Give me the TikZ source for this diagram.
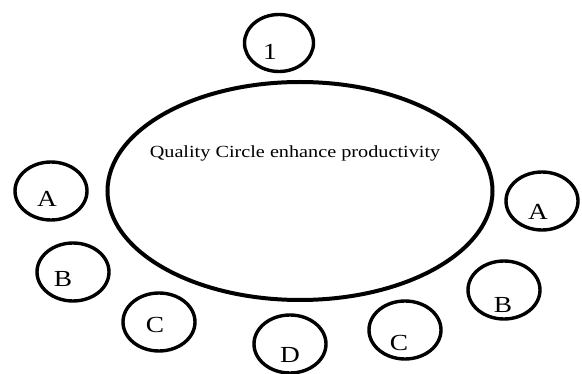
\documentclass[tikz,border=0pt]{standalone}
\usepackage{fontspec}
\setmainfont{Liberation Serif}[FakeStretch=1.19]
\usetikzlibrary{shapes.geometric}

\begin{document}
\begin{tikzpicture}[x=1pt, y=-1pt,
  ring/.style={ellipse, draw, line width=3.4pt, inner sep=0pt,
    minimum width=72pt, minimum height=58pt},
  letter/.style={inner sep=0pt, font=\fontsize{23}{23}\selectfont},
  theme/.style={inner sep=0pt, font=\fontsize{17}{17}\selectfont}
]
\useasboundingbox (0,0) rectangle (582,374);

% Main circle
\node[ellipse, draw, line width=4pt, inner sep=0pt,
  minimum width=385pt, minimum height=218pt] (qc) at (300,191) {};
\node[theme] (qct) at (295,153) {Quality Circle enhance productivity};

% Top
\node[ring, minimum width=69pt, minimum height=57pt] (one) at (279,43) {};
\node[letter] (onet) at (270,52) {1};

% Left side
\node[ring] (lA) at (51,191) {};
\node[letter] (lAt) at (47,199) {A};
\node[ring] (lB) at (73,272) {};
\node[letter] (lBt) at (63,279) {B};
\node[ring] (lC) at (159,322) {};
\node[letter] (lCt) at (155,325) {C};

% Bottom
\node[ring] (mD) at (290,344) {};
\node[letter] (mDt) at (290,355) {D};

% Right side
\node[ring] (rC) at (405,330) {};
\node[letter] (rCt) at (399,343) {C};
\node[ring] (rB) at (504,290) {};
\node[letter] (rBt) at (503,305) {B};
\node[ring] (rA) at (542,201) {};
\node[letter] (rAt) at (538,212) {A};

\end{tikzpicture}
\end{document}
